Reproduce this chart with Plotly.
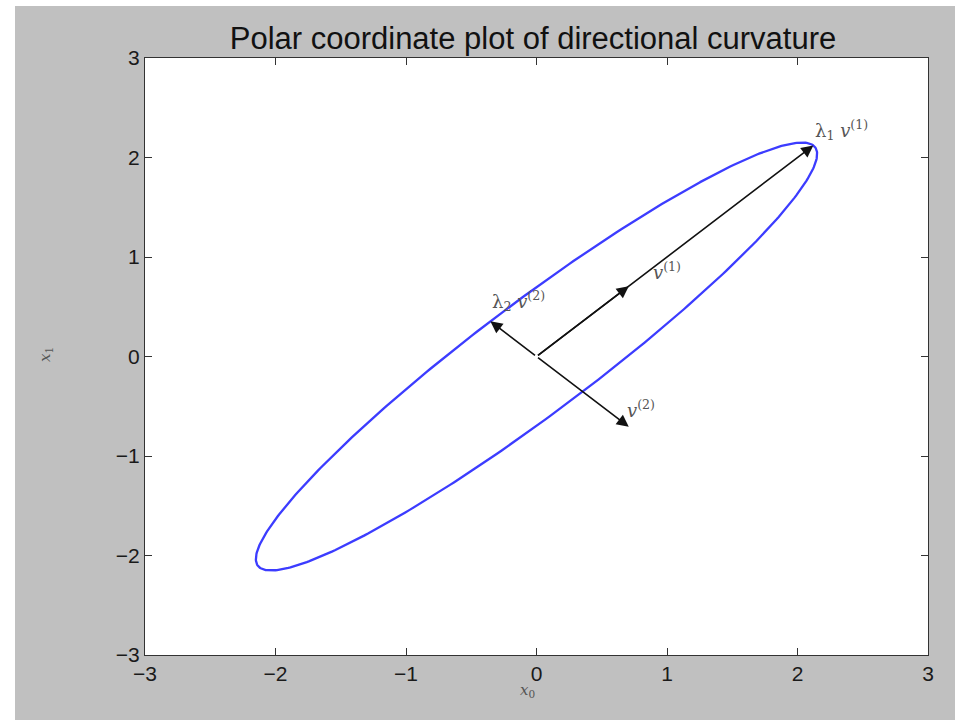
import numpy as np
import plotly.graph_objects as go

# ---- data ----
eigvals = [3.0, -0.5]                      # lambda_1, lambda_2
v1 = [0.7071, 0.7071]                      # eigenvector v(1)
v2 = [0.7071, -0.7071]                     # eigenvector v(2)
ticks = [-3, -2, -1, 0, 1, 2, 3]
tick_text = ["\u22123", "\u22122", "\u22121", "0", "1", "2", "3"]
title_text = "Polar coordinate plot of directional curvature"

# Hessian-like matrix H = sum lambda_i v_i v_i^T ; curve = H * unit circle
V = np.array([v1, v2]).T
H = V @ np.diag(eigvals) @ V.T
theta = np.linspace(0, 2 * np.pi, 400)
U = np.vstack([np.cos(theta), np.sin(theta)])
P = H @ U

OX, OY = 15, 6                 # page offset of the figure
W, Hh = 955 - OX, 720 - OY
ML, MR, MT, MB = 145 - OX, 27, 58 - OY, 65
PW, PH = W - ML - MR, Hh - MT - MB

fig = go.Figure()
fig.add_trace(go.Scatter(x=P[0], y=P[1], mode="lines",
                         line=dict(color="rgb(60,60,255)", width=2.3),
                         hoverinfo="skip", showlegend=False))

# arrows
tips = [
    (eigvals[0] * v1[0], eigvals[0] * v1[1]),
    (v1[0], v1[1]),
    (eigvals[1] * v2[0], eigvals[1] * v2[1]),
    (v2[0], v2[1]),
]
for tx, ty in tips:
    fig.add_annotation(x=tx, y=ty, ax=0, ay=0, xref="x", yref="y",
                       axref="x", ayref="y", showarrow=True, text="",
                       arrowhead=2, arrowsize=1.5, arrowwidth=1.6,
                       arrowcolor="#111111", standoff=0)

# vector labels
serif = dict(family="DejaVu Serif, Liberation Serif, serif", size=18, color="#555555")
labels = [
    (2.12, 2.28, "\u03bb<sub>1</sub> <i>v</i><sup>(1)</sup>"),
    (0.88, 0.86, "<i>v</i><sup>(1)</sup>"),
    (-0.36, 0.56, "\u03bb<sub>2</sub> <i>v</i><sup>(2)</sup>"),
    (0.68, -0.53, "<i>v</i><sup>(2)</sup>"),
]
for lx, ly, t in labels:
    fig.add_annotation(x=lx, y=ly, xref="x", yref="y", text=t, showarrow=False,
                       xanchor="left", yanchor="middle", font=serif)

# axis labels
fig.add_annotation(x=(527 - 145) / PW, y=(655 - 690) / PH, xref="paper", yref="paper",
                   text="<i>x</i><sub>0</sub>", showarrow=False,
                   xanchor="center", yanchor="middle",
                   font=dict(family="DejaVu Serif, serif", size=15, color="#555555"))
fig.add_annotation(x=(45 - 145) / PW, y=(655 - 355) / PH, xref="paper", yref="paper",
                   text="<i>x</i><sub>1</sub>", showarrow=False, textangle=-90,
                   xanchor="center", yanchor="middle",
                   font=dict(family="DejaVu Serif, serif", size=15, color="#555555"))

axis_common = dict(tickmode="array", tickvals=ticks, ticktext=tick_text,
                   ticks="inside", ticklen=7, tickcolor="#333333",
                   showline=True, linecolor="#333333", linewidth=1.2, mirror="ticks",
                   showgrid=False, zeroline=False,
                   tickfont=dict(family="Liberation Sans, Arial, sans-serif", size=21, color="#1a1a1a"))

fig.update_xaxes(range=[-3, 3], **axis_common)
fig.update_yaxes(range=[-3, 3], **axis_common)

fig.update_layout(
    width=W, height=Hh,
    margin=dict(l=ML, r=MR, t=MT, b=MB, autoexpand=False),
    paper_bgcolor="#c0c0c0",
    plot_bgcolor="white",
    title=dict(text=title_text, x=(533 - OX) / W, xanchor="center",
               y=1 - (38 - OY) / Hh, yanchor="middle",
               font=dict(family="Liberation Sans, Arial, sans-serif", size=31, color="#111111")),
)

page_js = ("document.documentElement.style.background='white';"
           "document.body.style.margin='%dpx 0 0 %dpx';"
           "document.body.style.background='#c0c0c0';"
           "document.body.style.overflow='hidden';" % (OY, OX))
fig.write_html("out.html", post_script=page_js)
